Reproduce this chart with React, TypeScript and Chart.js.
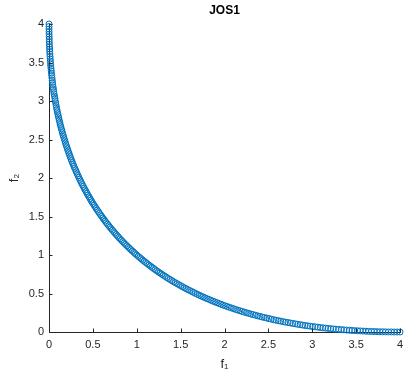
import React, { useEffect, useRef } from "react";
import { Chart, registerables } from "chart.js";

Chart.register(...registerables);

const TITLE = "JOS1";
const X_LABEL = "f₁";
const Y_LABEL = "f₂";
const X_TICKS = [0, 0.5, 1, 1.5, 2, 2.5, 3, 3.5, 4];
const Y_TICKS = [0, 0.5, 1, 1.5, 2, 2.5, 3, 3.5, 4];

// Pareto-front samples (set A)
const F1_A = [
  0, 0.000, 0.001, 0.003, 0.004, 0.007, 0.010, 0.014, 0.018, 0.023,
  0.028, 0.034, 0.040, 0.047, 0.054, 0.063, 0.071, 0.080, 0.090, 0.100,
  0.111, 0.123, 0.134, 0.147, 0.160, 0.174, 0.188, 0.203, 0.218, 0.234,
  0.250, 0.267, 0.284, 0.303, 0.321, 0.340, 0.360, 0.380, 0.401, 0.423,
  0.444, 0.467, 0.490, 0.514, 0.538, 0.563, 0.588, 0.614, 0.640, 0.667,
  0.694, 0.723, 0.751, 0.780, 0.810, 0.840, 0.871, 0.903, 0.934, 0.967,
  1.000, 1.034, 1.068, 1.103, 1.138, 1.174, 1.210, 1.247, 1.284, 1.323,
  1.361, 1.400, 1.440, 1.480, 1.521, 1.563, 1.604, 1.647, 1.690, 1.734,
  1.778, 1.823, 1.868, 1.914, 1.960, 2.007, 2.054, 2.103, 2.151, 2.200,
  2.250, 2.300, 2.351, 2.403, 2.454, 2.507, 2.560, 2.614, 2.668, 2.723,
  2.778, 2.834, 2.890, 2.947, 3.004, 3.063, 3.121, 3.180, 3.240, 3.300,
  3.361, 3.423, 3.484, 3.547, 3.610, 3.674, 3.738, 3.803, 3.868, 3.934,
  4.000,
];

const F2_A = [
  4.000, 3.934, 3.868, 3.803, 3.738, 3.674, 3.610, 3.547, 3.484, 3.423,
  3.361, 3.300, 3.240, 3.180, 3.121, 3.063, 3.004, 2.947, 2.890, 2.834,
  2.778, 2.723, 2.668, 2.614, 2.560, 2.507, 2.454, 2.403, 2.351, 2.300,
  2.250, 2.200, 2.151, 2.103, 2.054, 2.007, 1.960, 1.914, 1.868, 1.823,
  1.778, 1.734, 1.690, 1.647, 1.604, 1.563, 1.521, 1.480, 1.440, 1.400,
  1.361, 1.323, 1.284, 1.247, 1.210, 1.174, 1.138, 1.103, 1.068, 1.034,
  1.000, 0.967, 0.934, 0.903, 0.871, 0.840, 0.810, 0.780, 0.751, 0.723,
  0.694, 0.667, 0.640, 0.614, 0.588, 0.563, 0.538, 0.514, 0.490, 0.467,
  0.444, 0.423, 0.401, 0.380, 0.360, 0.340, 0.321, 0.303, 0.284, 0.267,
  0.250, 0.234, 0.218, 0.203, 0.188, 0.174, 0.160, 0.147, 0.134, 0.123,
  0.111, 0.100, 0.090, 0.080, 0.071, 0.063, 0.054, 0.047, 0.040, 0.034,
  0.028, 0.023, 0.018, 0.014, 0.010, 0.007, 0.004, 0.003, 0.001, 0.000,
  0,
];

// Pareto-front samples (set B)
const F1_B = [
  0.000, 0.001, 0.002, 0.003, 0.006, 0.008, 0.012, 0.016, 0.020, 0.025,
  0.031, 0.037, 0.043, 0.051, 0.058, 0.067, 0.076, 0.085, 0.095, 0.106,
  0.117, 0.128, 0.141, 0.153, 0.167, 0.181, 0.195, 0.210, 0.226, 0.242,
  0.258, 0.276, 0.293, 0.312, 0.331, 0.350, 0.370, 0.391, 0.412, 0.433,
  0.456, 0.478, 0.502, 0.526, 0.550, 0.575, 0.601, 0.627, 0.653, 0.681,
  0.708, 0.737, 0.766, 0.795, 0.825, 0.856, 0.887, 0.918, 0.951, 0.983,
  1.017, 1.051, 1.085, 1.120, 1.156, 1.192, 1.228, 1.266, 1.303, 1.342,
  1.381, 1.420, 1.460, 1.501, 1.542, 1.583, 1.626, 1.668, 1.712, 1.756,
  1.800, 1.845, 1.891, 1.937, 1.983, 2.031, 2.078, 2.127, 2.176, 2.225,
  2.275, 2.326, 2.377, 2.428, 2.481, 2.533, 2.587, 2.641, 2.695, 2.750,
  2.806, 2.862, 2.918, 2.976, 3.033, 3.092, 3.151, 3.210, 3.270, 3.331,
  3.392, 3.453, 3.516, 3.578, 3.642, 3.706, 3.770, 3.835, 3.901, 3.967,
];

const F2_B = [
  3.967, 3.901, 3.835, 3.770, 3.706, 3.642, 3.578, 3.516, 3.453, 3.392,
  3.331, 3.270, 3.210, 3.151, 3.092, 3.033, 2.976, 2.918, 2.862, 2.806,
  2.750, 2.695, 2.641, 2.587, 2.533, 2.481, 2.428, 2.377, 2.326, 2.275,
  2.225, 2.176, 2.127, 2.078, 2.031, 1.983, 1.937, 1.891, 1.845, 1.800,
  1.756, 1.712, 1.668, 1.626, 1.583, 1.542, 1.501, 1.460, 1.420, 1.381,
  1.342, 1.303, 1.266, 1.228, 1.192, 1.156, 1.120, 1.085, 1.051, 1.017,
  0.983, 0.951, 0.918, 0.887, 0.856, 0.825, 0.795, 0.766, 0.737, 0.708,
  0.681, 0.653, 0.627, 0.601, 0.575, 0.550, 0.526, 0.502, 0.478, 0.456,
  0.433, 0.412, 0.391, 0.370, 0.350, 0.331, 0.312, 0.293, 0.276, 0.258,
  0.242, 0.226, 0.210, 0.195, 0.181, 0.167, 0.153, 0.141, 0.128, 0.117,
  0.106, 0.095, 0.085, 0.076, 0.067, 0.058, 0.051, 0.043, 0.037, 0.031,
  0.025, 0.020, 0.016, 0.012, 0.008, 0.006, 0.003, 0.002, 0.001, 0.000,
];

const AXIS_COLOR = "#262626";
const FONT = "'Liberation Sans', Arial, Helvetica, sans-serif";

const inwardTicks = {
  id: "inwardTicks",
  afterDraw(chart: any) {
    const { ctx, chartArea, scales } = chart;
    const len = 3.5;
    ctx.save();
    ctx.strokeStyle = AXIS_COLOR;
    ctx.lineWidth = 1;
    ctx.beginPath();
    X_TICKS.forEach((v) => {
      const px = Math.round(scales.x.getPixelForValue(v)) + 0.5;
      ctx.moveTo(px, chartArea.bottom);
      ctx.lineTo(px, chartArea.bottom - len);
    });
    Y_TICKS.forEach((v) => {
      const py = Math.round(scales.y.getPixelForValue(v)) + 0.5;
      ctx.moveTo(chartArea.left, py);
      ctx.lineTo(chartArea.left + len, py);
    });
    ctx.stroke();
    ctx.restore();
  },
};

export default function App() {
  const ref = useRef<HTMLCanvasElement | null>(null);
  useEffect(() => {
    if (!ref.current) return;
    const points = [
      ...F1_A.map((x, i) => ({ x, y: F2_A[i] })),
      ...F1_B.map((x, i) => ({ x, y: F2_B[i] })),
    ];
    const chart = new Chart(ref.current, {
      type: "scatter",
      data: {
        datasets: [
          {
            data: points,
            borderColor: "#0072BD",
            backgroundColor: "rgba(0,0,0,0)",
            borderWidth: 1,
            pointRadius: 3,
            pointHoverRadius: 3,
            clip: false as any,
          },
        ],
      },
      options: {
        animation: false,
        responsive: true,
        maintainAspectRatio: false,
        layout: { padding: { left: 0, right: 3, top: 0, bottom: 0 } },
        plugins: {
          legend: { display: false },
          tooltip: { enabled: false },
          title: {
            display: true,
            text: TITLE,
            fullSize: false,
            color: "#000",
            font: { family: FONT, size: 12, weight: "bold" },
            padding: { top: 3, bottom: 6.6 },
          },
        },
        scales: {
          x: {
            type: "linear",
            min: 0,
            max: 4,
            afterBuildTicks: (s: any) => {
              s.ticks = X_TICKS.map((v) => ({ value: v }));
            },
            afterFit: (s: any) => {
              s.height = 46;
              s.paddingLeft = 0;
              s.paddingRight = 0;
            },
            grid: { display: true, drawOnChartArea: false, drawTicks: false },
            border: { display: true, color: AXIS_COLOR, width: 1 },
            ticks: {
              color: AXIS_COLOR,
              font: { family: FONT, size: 11 },
              padding: 6,
              maxRotation: 0,
              callback: (v: any) => String(v),
            },
            title: {
              display: true,
              text: X_LABEL,
              color: AXIS_COLOR,
              font: { family: FONT, size: 13 },
              padding: { top: 0, bottom: 6 },
            },
          },
          y: {
            type: "linear",
            min: 0,
            max: 4,
            afterBuildTicks: (s: any) => {
              s.ticks = Y_TICKS.map((v) => ({ value: v }));
            },
            afterFit: (s: any) => {
              s.width = 49;
              s.paddingTop = 0;
              s.paddingBottom = 0;
            },
            grid: { display: true, drawOnChartArea: false, drawTicks: false },
            border: { display: true, color: AXIS_COLOR, width: 1 },
            ticks: {
              color: AXIS_COLOR,
              font: { family: FONT, size: 11 },
              padding: 5,
              callback: (v: any) => String(v),
            },
            title: {
              display: true,
              text: Y_LABEL,
              color: AXIS_COLOR,
              font: { family: FONT, size: 13 },
              padding: { top: 7, bottom: 0 },
            },
          },
        },
      },
      plugins: [inwardTicks],
    });
    return () => chart.destroy();
  }, []);
  return (
    <div style={{ position: "fixed", left: 0, top: 0, width: 404, height: 378, background: "#fff" }}>
      <canvas ref={ref} />
    </div>
  );
}
